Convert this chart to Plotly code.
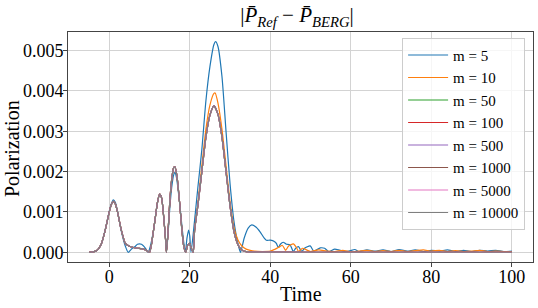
import plotly.graph_objects as go

# ---- data (Polarization values in units of 1e-3) ----
t_conv = [-5, -4, -3, -2, -1, 0, 0.5, 1, 1.5, 2, 3, 4, 5, 6, 7, 8, 9, 10,
          11, 12, 12.5, 13, 13.5, 14, 14.2, 14.6, 15, 15.5, 16, 16.3, 16.8, 17.5, 18, 18.5, 19,
          19.5, 19.9, 20.4, 20.85, 21.2, 22, 23, 24, 25, 26, 27, 28, 29, 30, 31, 32, 33, 34, 35,
          40, 50, 60, 70, 80, 90, 100]
p_conv = [0.0, 0.01, 0.05, 0.2, 0.55, 1.0, 1.18, 1.26, 1.2, 1.02, 0.55, 0.22, 0.15, 0.12, 0.1, 0.09, 0.06, 0.0,
          0.55, 1.25, 1.44, 1.35, 0.9, 0.3, 0.0, 0.5, 1.2, 1.8, 2.1, 2.12, 1.9, 1.2, 0.6, 0.15, 0.0,
          0.18, 0.22, 0.1, 0.0, 0.55, 1.15, 2.0, 2.85, 3.4, 3.63, 3.42, 2.85, 2.0, 1.15, 0.5, 0.18, 0.05, 0.015, 0.005,
          0.003, 0.002, 0.002, 0.002, 0.002, 0.002, 0.002]

t_m10 = [-5, -4, -3, -2, -1, 0, 0.5, 1, 1.5, 2, 3, 4, 5, 6, 7, 8, 9, 10,
         11, 12, 12.5, 13, 13.5, 14, 14.2, 14.6, 15, 15.5, 16, 16.3, 16.8, 17.5, 18, 18.5, 19,
         19.5, 19.9, 20.4, 20.85, 21.2, 22, 23, 24, 25, 26, 26.3, 27, 28, 29, 30, 31, 32, 33, 34, 35, 36, 38,
         40, 41, 42, 43, 43.8, 44.5, 45.7, 46.5, 47, 48, 49, 50, 52, 54, 56, 58, 60, 62, 64, 66, 68, 70,
         72, 74, 76, 78, 80, 82, 84, 86, 88, 90, 92, 94, 96, 98, 100]
p_m10 = [0.0, 0.01, 0.05, 0.2, 0.55, 1.0, 1.18, 1.26, 1.2, 1.02, 0.55, 0.22, 0.15, 0.12, 0.1, 0.09, 0.06, 0.0,
         0.55, 1.25, 1.44, 1.35, 0.9, 0.3, 0.0, 0.5, 1.2, 1.8, 2.1, 2.12, 1.9, 1.2, 0.6, 0.15, 0.0,
         0.18, 0.22, 0.1, 0.0, 0.55, 1.2, 2.15, 3.05, 3.65, 3.94, 3.95, 3.7, 3.05, 2.15, 1.25, 0.6, 0.3, 0.15, 0.08, 0.05, 0.03, 0.02,
         0.03, 0.07, 0.12, 0.17, 0.05, 0.15, 0.21, 0.12, 0.02, 0.1, 0.06, 0.02, 0.06, 0.03, 0.02, 0.05, 0.01, 0.03, 0.05, 0.02, 0.04, 0.02,
         0.05, 0.02, 0.04, 0.06, 0.03, 0.05, 0.02, 0.04, 0.02, 0.03, 0.05, 0.02, 0.03, 0.02, 0.02]

t_m5 = [-5, -4, -3, -2, -1, 0, 0.5, 1, 1.5, 2, 3, 4, 4.7, 5.5, 6.5, 7, 8, 9, 9.65, 10.2,
        11, 12, 12.5, 13, 13.5, 14, 14.2, 14.6, 15, 15.5, 16, 16.3, 16.7, 17.5, 18, 18.5, 18.9,
        19.3, 19.7, 20.0, 20.3, 21, 22, 23, 24, 25, 26, 26.4, 27, 28, 29, 30, 31, 32, 32.6,
        33.5, 34.5, 35.4, 36.5, 37.5, 38.5, 39, 40, 41, 41.5, 42, 42.5, 43.2, 44, 44.9, 45.7, 46.3, 47,
        47.8, 48.5, 49.9, 50.8, 52.4, 53.5, 54.5, 56, 57, 58, 59.5, 61, 62, 64, 66, 68, 70,
        72, 74, 76, 78, 80, 82, 84, 86, 88, 90, 92, 94, 96, 98, 100]
p_m5 = [0.0, 0.01, 0.05, 0.2, 0.56, 1.02, 1.2, 1.3, 1.24, 1.04, 0.52, 0.15, 0.0, 0.08, 0.15, 0.2, 0.2, 0.1, 0.0, 0.15,
        0.55, 1.25, 1.43, 1.35, 0.9, 0.3, 0.0, 0.45, 1.05, 1.6, 1.92, 1.98, 1.85, 1.2, 0.7, 0.25, 0.0,
        0.35, 0.55, 0.4, 0.0, 0.6, 1.6, 2.55, 3.75, 4.6, 5.15, 5.22, 5.1, 4.35, 3.0, 1.7, 0.75, 0.2, 0.0,
        0.35, 0.6, 0.68, 0.62, 0.5, 0.35, 0.3, 0.3, 0.27, 0.22, 0.12, 0.2, 0.25, 0.2, 0.19, 0.02, 0.1, 0.14,
        0.02, 0.1, 0.16, 0.03, 0.11, 0.1, 0.02, 0.08, 0.06, 0.03, 0.03, 0.07, 0.02, 0.06, 0.03, 0.06, 0.02,
        0.07, 0.03, 0.06, 0.02, 0.05, 0.03, 0.06, 0.02, 0.05, 0.02, 0.05, 0.03, 0.05, 0.02, 0.03]

series_names = ["m = 5", "m = 10", "m = 50", "m = 100", "m = 500", "m = 1000", "m = 5000", "m = 10000"]
colors = ["#1f77b4", "#ff7f0e", "#2ca02c", "#d62728", "#9467bd", "#8c564b", "#e377c2", "#7f7f7f"]
series_t = [t_m5, t_m10, t_conv, t_conv, t_conv, t_conv, t_conv, t_conv]
series_p = [p_m5, p_m10, p_conv, p_conv, p_conv, p_conv, p_conv, p_conv]

x_ticks = [0, 20, 40, 60, 80, 100]
y_ticks = [0.000, 0.001, 0.002, 0.003, 0.004, 0.005]

FONT = "Liberation Serif, DejaVu Serif, serif"

fig = go.Figure()
for name, col, tt, pp in zip(series_names, colors, series_t, series_p):
    fig.add_trace(go.Scatter(
        x=tt, y=[v * 1e-3 for v in pp], mode="lines", name=name,
        line=dict(color=col, width=1.2, shape="spline", smoothing=0.6),
    ))

axis_common = dict(
    showgrid=True, gridcolor="#d3d3d3", gridwidth=1,
    showline=True, linecolor="#444444", linewidth=1, mirror=True,
    ticks="outside", ticklen=4, tickcolor="#444444", tickwidth=1,
    tickfont=dict(family=FONT, size=18, color="black"),
    zeroline=False, automargin=False,
)

fig.update_layout(
    width=538, height=308,
    margin=dict(l=68, r=5, t=32, b=46),
    paper_bgcolor="white", plot_bgcolor="white",
    title=dict(
        text="|<i>P̄</i><sub><i>Ref</i></sub> − <i>P̄</i><sub><i>BERG</i></sub>|",
        font=dict(family=FONT, size=21, color="black"),
        x=0.552, xanchor="center", y=1 - 15 / 308, yanchor="middle", yref="container",
    ),
    xaxis=dict(axis_common, range=[-10.25, 105.25], tickvals=x_ticks, ticklabelstandoff=-6),
    yaxis=dict(axis_common, range=[-0.00024, 0.00546], tickvals=y_ticks, tickformat=".3f",
               ticklabelstandoff=-4),
    legend=dict(
        x=0.983, y=0.975, xanchor="right", yanchor="top",
        bgcolor="rgba(255,255,255,0.8)", bordercolor="#cccccc", borderwidth=1,
        font=dict(family=FONT, size=15, color="black"),
        tracegroupgap=0, itemwidth=40,
    ),
    showlegend=True,
    annotations=[
        dict(text="Time", xref="paper", yref="paper", x=0.502, y=(262 - 294) / 230,
             xanchor="center", yanchor="middle", showarrow=False,
             font=dict(family=FONT, size=20, color="black")),
        dict(text="Polarization", xref="paper", yref="paper", x=(12 - 68) / 465, y=(262 - 149) / 230,
             xanchor="center", yanchor="middle", showarrow=False, textangle=-90,
             font=dict(family=FONT, size=20, color="black")),
    ],
)

fig.write_html("out.html", config={"displayModeBar": False},
               post_script="document.body.style.margin='0';document.body.style.overflow='hidden';")
